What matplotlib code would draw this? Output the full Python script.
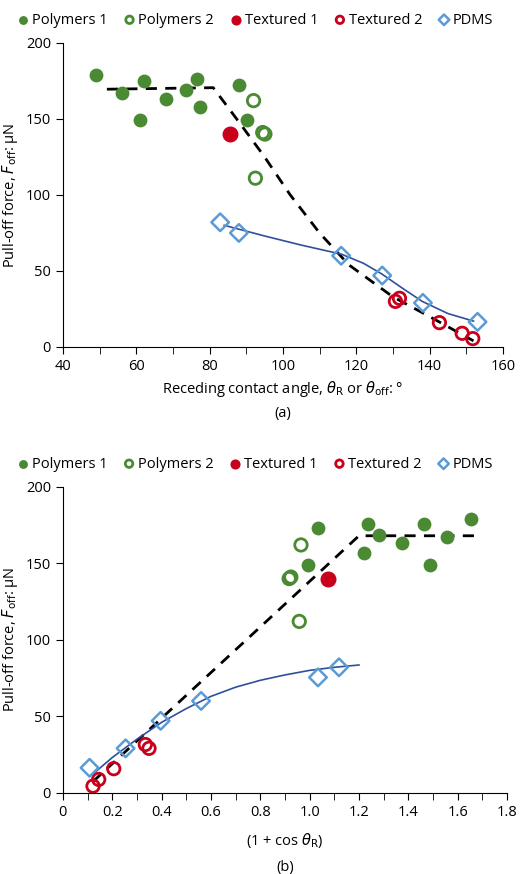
import matplotlib
matplotlib.use("Agg")
import matplotlib.pyplot as plt
from matplotlib.ticker import MultipleLocator

plt.rcParams['font.family'] = ['Open Sans', 'DejaVu Sans']
plt.rcParams['mathtext.fontset'] = 'dejavusans'

# (a) receding angle
a_p1_x = [48.9, 56.1, 62.2, 61.1, 68.1, 73.7, 76.5, 77.5, 88.1, 90.3]
a_p1_y = [179, 167, 175, 149, 163, 169, 176, 158, 172, 149]
a_p2_x = [92.0, 94.5, 95.1, 92.5]
a_p2_y = [162, 141, 140, 111]
a_t1_x = [85.6]
a_t1_y = [140]
a_t2_x = [130.7, 131.8, 142.7, 148.9, 151.8]
a_t2_y = [30, 32, 16, 9, 5.5]
a_pd_x = [82.9, 88.0, 115.9, 127.1, 138.2, 153.1]
a_pd_y = [82, 75, 60, 47, 29, 16.5]
a_dash_x = [52, 81, 88, 95, 102, 110, 118, 130, 140, 152]
a_dash_y = [169.5, 170.5, 148, 125, 100, 75, 54, 33, 20, 4]
a_fit_x = [84, 95, 105, 116, 122, 127, 133, 138, 145, 152]
a_fit_y = [80, 73, 67, 61, 55, 48, 38, 30, 22, 17]

# (b) 1 + cos(theta_R)
b_p1_x = [1.655, 1.235, 1.465, 1.032, 1.281, 1.373, 1.557, 1.221, 0.995, 1.486]
b_p1_y = [179, 176, 176, 173, 168.5, 163, 167, 157, 149, 149]
b_p2_x = [0.965, 0.917, 0.924, 0.958]
b_p2_y = [162, 140, 141, 112]
b_t1_x = [1.074]
b_t1_y = [140]
b_t2_x = [0.122, 0.145, 0.206, 0.334, 0.349]
b_t2_y = [4.3, 8.7, 15.7, 31.5, 29]
b_pd_x = [0.108, 0.254, 0.396, 0.56, 1.034, 1.119]
b_pd_y = [16.3, 29, 47, 60, 75.4, 82]
b_dash_x = [0.12, 1.2, 1.67]
b_dash_y = [7, 168, 168]
b_fit_x = [0.12, 0.2, 0.3, 0.4, 0.5, 0.6, 0.7, 0.8, 0.9, 1.0, 1.1, 1.2]
b_fit_y = [12, 23, 35, 46, 55, 63, 69, 73.5, 77, 80, 82, 83.5]

green = '#4a8a32'
red = '#c8001c'
blue = '#5b9bd5'
navy = '#2f4f9a'

fig = plt.figure(figsize=(5.2, 8.74), dpi=100)
ax1 = fig.add_axes([0.121, 0.603, 0.846, 0.348])
ax2 = fig.add_axes([0.121, 0.093, 0.854, 0.350])


def draw(ax, d):
    (p1x, p1y, p2x, p2y, t1x, t1y, t2x, t2y, pdx, pdy, dx, dy, fx, fy) = d
    ax.plot(dx, dy, color='black', ls=(0, (4, 3)), lw=2, zorder=2)
    ax.plot(fx, fy, color=navy, lw=1.2, zorder=2)
    h = []
    h.append(ax.scatter(p1x, p1y, s=80, color=green, zorder=3, label='Polymers 1'))
    h.append(ax.scatter(p2x, p2y, s=80, facecolor='none', edgecolor=green, lw=2, zorder=3, label='Polymers 2'))
    h.append(ax.scatter(t1x, t1y, s=110, color=red, zorder=3, label='Textured 1'))
    h.append(ax.scatter(t2x, t2y, s=80, facecolor='none', edgecolor=red, lw=2, zorder=3, label='Textured 2'))
    h.append(ax.scatter(pdx, pdy, s=80, marker='D', facecolor='none', edgecolor=blue, lw=1.8, zorder=3, label='PDMS'))
    for s in ['top', 'right']:
        ax.spines[s].set_visible(False)
    ax.set_ylim(0, 200)
    ax.yaxis.set_major_locator(MultipleLocator(50))
    ax.tick_params(direction='out', labelsize=10.5, length=5)
    ax.tick_params(which='minor', direction='out', length=5)
    ax.set_ylabel('Pull-off force, $F_{\\mathrm{off}}$: \u03bcN', fontsize=10.5)
    ax.legend(handles=h, loc='lower left', bbox_to_anchor=(-0.11, 1.05), ncol=5, frameon=False,
              handletextpad=0.0, columnspacing=0.9, fontsize=10.5, borderaxespad=0, borderpad=0,
              markerscale=0.6, handlelength=1.2)


draw(ax1, (a_p1_x, a_p1_y, a_p2_x, a_p2_y, a_t1_x, a_t1_y, a_t2_x, a_t2_y,
           a_pd_x, a_pd_y, a_dash_x, a_dash_y, a_fit_x, a_fit_y))
ax1.set_xlim(40, 160)
ax1.xaxis.set_major_locator(MultipleLocator(20))
ax1.xaxis.set_minor_locator(MultipleLocator(10))
ax1.set_xlabel('Receding contact angle, $\\theta_{\\mathrm{R}}$ or $\\theta_{\\mathrm{off}}$: \u00b0\n(a)',
               fontsize=10.5, linespacing=1.6)

draw(ax2, (b_p1_x, b_p1_y, b_p2_x, b_p2_y, b_t1_x, b_t1_y, b_t2_x, b_t2_y,
           b_pd_x, b_pd_y, b_dash_x, b_dash_y, b_fit_x, b_fit_y))
ax2.set_xlim(0, 1.8)
ax2.set_xticks([0, 0.2, 0.4, 0.6, 0.8, 1.0, 1.2, 1.4, 1.6, 1.8])
ax2.set_xticklabels(['0'] + ['%.1f' % v for v in [0.2, 0.4, 0.6, 0.8, 1.0, 1.2, 1.4, 1.6, 1.8]])
ax2.xaxis.set_minor_locator(MultipleLocator(0.1))
ax2.set_xlabel('(1 + cos $\\theta_{\\mathrm{R}}$)\n(b)', fontsize=10.5, linespacing=1.9, labelpad=8)

fig.savefig('out.png', dpi=100)
